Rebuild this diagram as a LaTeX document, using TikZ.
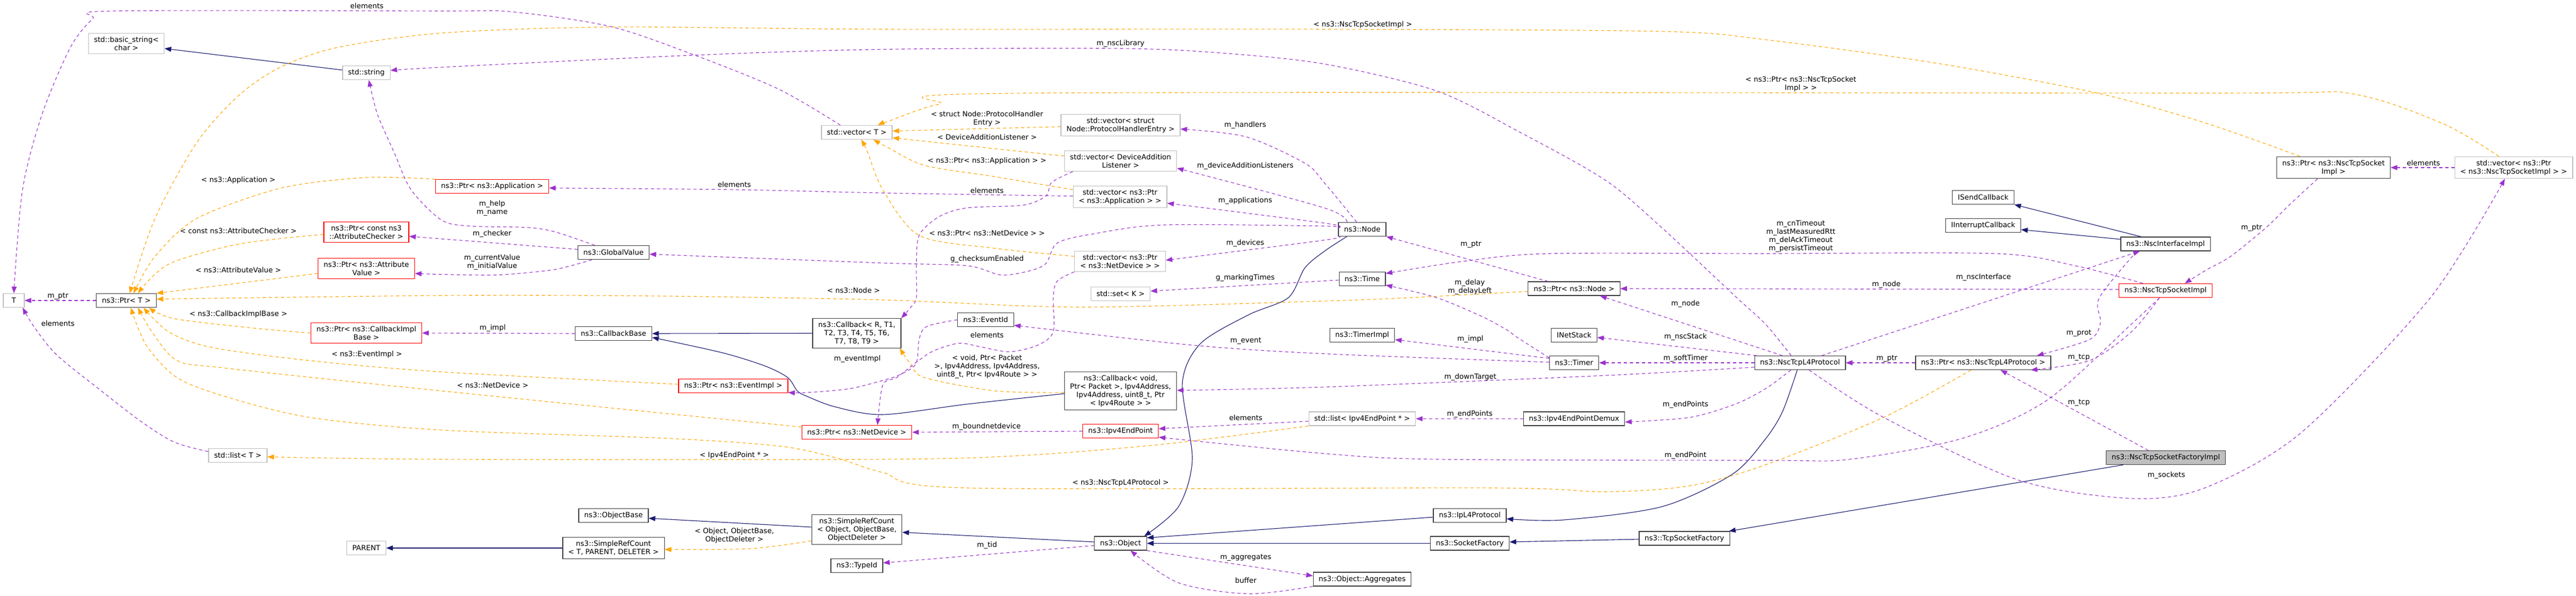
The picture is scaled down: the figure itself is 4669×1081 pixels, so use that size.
\documentclass[tikz,border=0pt]{standalone}
\usepackage{fontspec}
\setmainfont{DejaVu Sans}
\usetikzlibrary{arrows.meta}
\definecolor{usecol}{HTML}{9A32CD}
\definecolor{inhcol}{HTML}{191970}
\definecolor{tplcol}{HTML}{FFA500}
\definecolor{bdgray}{HTML}{BFBFBF}
\definecolor{bdred}{HTML}{FF0000}
\definecolor{bddark}{HTML}{404040}
\tikzset{
  cls/.style={draw=bddark, fill=white, line width=1.2pt, font=\fontsize{13}{15}\selectfont,
    align=center, inner xsep=10pt, inner ysep=6pt, minimum height=25pt},
  ext/.style={cls, draw=bdgray},
  bad/.style={cls, draw=bdred},
  root/.style={cls, fill=bdgray},
  member/.style={usecol, line width=1.1pt, dash pattern=on 6pt off 5pt, -{Triangle[length=12pt,width=9pt]}},
  inherit/.style={inhcol, line width=1.1pt, -{Triangle[length=12pt,width=9pt]}},
  templ/.style={tplcol, line width=1.1pt, dash pattern=on 6pt off 5pt, -{Triangle[length=12pt,width=9pt]}},
  lbl/.style={font=\fontsize{13}{15}\selectfont, align=center, inner sep=0pt, text=black}
}
\begin{document}
\begin{tikzpicture}[x=1pt, y=-1pt]
        \useasboundingbox[fill=white] (0,0) rectangle (4669,1081);
        % classes
        \node (T) at (25,545) [ext, minimum width=38pt] {T};
        \node (PtrT) at (229,545) [cls] {ns3::Ptr< T >};
        \node (bstr) at (229,79) [ext] {std::basic\_string<\\char >};
        \node (str) at (664,132) [ext] {std::string};
        \node (PtrChk) at (664,421) [bad] {ns3::Ptr< const ns3\\::AttributeChecker >};
        \node (PtrVal) at (664,487) [bad] {ns3::Ptr< ns3::Attribute\\Value >};
        \node (PtrCbImpl) at (664,604) [bad] {ns3::Ptr< ns3::CallbackImpl\\Base >};
        \node (listT) at (431,826) [ext] {std::list< T >};
        \node (parent) at (664,994) [ext] {PARENT};
        \node (PtrApp) at (892,338) [bad] {ns3::Ptr< ns3::Application >};
        \node (GV) at (1112,458) [cls] {ns3::GlobalValue};
        \node (CbBase) at (1112,605) [cls] {ns3::CallbackBase};
        \node (PtrEvImpl) at (1329,700) [bad] {ns3::Ptr< ns3::EventImpl >};
        \node (ObjBase) at (1112,935) [cls] {ns3::ObjectBase};
        \node (SRCT) at (1112,994) [cls] {ns3::SimpleRefCount\\< T, PARENT, DELETER >};
        \node (vecT) at (1553,240) [ext] {std::vector< T >};
        \node (CbR) at (1553,604.5) [cls] {ns3::Callback< R, T1,\\T2, T3, T4, T5, T6,\\T7, T8, T9 >};
        \node (PtrNetDev) at (1553,784) [bad] {ns3::Ptr< ns3::NetDevice >};
        \node (SRCObj) at (1553,960.5) [cls] {ns3::SimpleRefCount\\< Object, ObjectBase,\\ObjectDeleter >};
        \node (TypeId) at (1553,1026) [cls] {ns3::TypeId};
        \node (EvId) at (1786.5,580) [cls] {ns3::EventId};
        \node (vecPHE) at (2031,227) [ext] {std::vector< struct\\Node::ProtocolHandlerEntry >};
        \node (vecDAL) at (2031,292) [ext] {std::vector< DeviceAddition\\Listener >};
        \node (vecApp) at (2030,357) [ext] {std::vector< ns3::Ptr\\< ns3::Application > >};
        \node (vecDev) at (2030,474) [ext] {std::vector< ns3::Ptr\\< ns3::NetDevice > >};
        \node (setK) at (2031,533) [ext] {std::set< K >};
        \node (CbVoid) at (2031,709) [cls] {ns3::Callback< void,\\Ptr< Packet >, Ipv4Address,\\Ipv4Address, uint8\_t, Ptr\\< Ipv4Route > >};
        \node (EndPt) at (2031,782) [bad] {ns3::Ipv4EndPoint};
        \node (Obj) at (2031,985.5) [cls] {ns3::Object};
        \node (Node) at (2469,416) [cls] {ns3::Node};
        \node (Time) at (2469,506) [cls] {ns3::Time};
        \node (TimerImpl) at (2469,608) [cls] {ns3::TimerImpl};
        \node (listEP) at (2469,759.5) [ext] {std::list< Ipv4EndPoint * >};
        \node (Aggr) at (2469,1050.5) [cls] {ns3::Object::Aggregates};
        \node (PtrNode) at (2853,523.5) [cls] {ns3::Ptr< ns3::Node >};
        \node (NetStack) at (2853,608) [cls] {INetStack};
        \node (Timer) at (2853,658) [cls] {ns3::Timer};
        \node (Demux) at (2853,759.5) [cls] {ns3::Ipv4EndPointDemux};
        \node (IpL4) at (2664,935) [cls] {ns3::IpL4Protocol};
        \node (SockFac) at (2664,985.5) [cls] {ns3::SocketFactory};
        \node (TcpSockFac) at (3053,976.5) [cls] {ns3::TcpSocketFactory};
        \node (L4) at (3262.5,658) [cls] {ns3::NscTcpL4Protocol};
        \node (PtrL4) at (3594.5,658) [cls] {ns3::Ptr< ns3::NscTcpL4Protocol >};
        \node (SendCb) at (3594.5,358) [cls] {ISendCallback};
        \node (IntCb) at (3594.5,409) [cls] {IInterruptCallback};
        \node (Iface) at (3925,442.5) [cls] {ns3::NscInterfaceImpl};
        \node (Sock) at (3925,527) [bad] {ns3::NscTcpSocketImpl};
        \node (Fac) at (3925.5,830) [root] {ns3::NscTcpSocketFactoryImpl};
        \node (PtrSock) at (4229.5,304) [cls] {ns3::Ptr< ns3::NscTcpSocket\\Impl >};
        \node (vecSock) at (4556,304) [ext] {std::vector< ns3::Ptr\\< ns3::NscTcpSocketImpl > >};

        % inheritance
        \draw[inherit] ([yshift=5pt]str.west) -- ([yshift=-9pt]bstr.east);
        \draw[inherit] (CbR.west) -- (CbBase.east);
        \draw[inherit] plot[smooth] coordinates {([yshift=-5pt]CbVoid.west) (1753,733) (1600,752) (1514,738) (1463,719) (1445,709) (1428,685) (1387,664) (1310,640) ([yshift=-7pt]CbBase.east)};
        \draw[inherit] plot[smooth] coordinates {([xshift=-28pt]Node.south) (2400,456) (2365,486) (2335,540) (2263,571) (2176,623) (2143,695) (2161,833) (2136,919) ([xshift=43pt]Obj.north)};
        \draw[inherit] ([yshift=4.5pt]SRCObj.west) -- ([yshift=-5pt]ObjBase.east);
        \draw[inherit] ([yshift=2.5pt]Obj.west) -- ([yshift=-5pt]SRCObj.east);
        \draw[inherit] (SRCT.west) -- (parent.east);
        \draw[inherit] ([yshift=-3pt]IpL4.west) -- ([yshift=10pt]Obj.east);
        \draw[inherit] (SockFac.west) -- (Obj.east);
        \draw[inherit] plot[smooth] coordinates {([xshift=-5pt]L4.south) (3231,746) (3200,796) (3140,860) (3012,919) (2834,943) ([yshift=-6pt]IpL4.east)};
        \draw[inherit] ([yshift=-1.5pt]TcpSockFac.west) -- ([yshift=2.5pt]SockFac.east);
        \draw[inherit] ([xshift=-77pt]Fac.south) -- ([xshift=-2pt]TcpSockFac.north east);
        \draw[inherit] ([xshift=-44pt]Iface.north) -- (SendCb.south east);
        \draw[inherit] ([yshift=8.5pt]Iface.west) -- ([yshift=-7.5pt]IntCb.east);

        % template instances
        \draw[templ] plot[smooth] coordinates {([xshift=-61pt]PtrSock.north) (4000,224) (3802,169) (3506,114) (3200,72) (3012,57) (2400,53) (1600,53) (1106,49) (800,60) (612,86) (510,121) (434,172) (357,258) (281,396) ([xshift=6pt]PtrT.north)}
            node[lbl] at (2470,45) {< ns3::NscTcpSocketImpl >};
        \draw[templ] plot[smooth] coordinates {([xshift=-27pt]vecSock.north) (4427,224) (4256,169) (4000,169) (1855,169) (1702,189) (1610,220) ([xshift=38pt]vecT.north)}
            node[lbl] at (3264,152) {< ns3::Ptr< ns3::NscTcpSocket\\Impl > >};
        \draw[templ] ([yshift=-2.7pt]vecPHE.west) -- ([yshift=2.4pt]vecT.east)
            node[lbl] at (1789,215) {< struct Node::ProtocolHandler\\Entry >};
        \draw[templ] ([yshift=9pt]vecDAL.west) -- ([yshift=-10pt]vecT.east)
            node[lbl] at (1789,249) {< DeviceAdditionListener >};
        \draw[templ] plot[smooth] coordinates {([yshift=13pt]vecApp.west) (1800,320) (1676,300) (1610,268) ([xshift=30pt]vecT.south)}
            node[lbl] at (1789,292) {< ns3::Ptr< ns3::Application > >};
        \draw[templ] plot[smooth] coordinates {([yshift=9pt]vecDev.west) (1800,450) (1666,427) (1600,344) (1572,275) ([xshift=8pt]vecT.south)}
            node[lbl] at (1789,422.5) {< ns3::Ptr< ns3::NetDevice > >};
        \draw[templ] plot[smooth] coordinates {([yshift=13pt]PtrApp.west) (663,322) (510,341) (357,396) (281,465) ([xshift=13pt]PtrT.north)}
            node[lbl] at (432,327) {< ns3::Application >};
        \draw[templ] plot[smooth] coordinates {([yshift=-4pt]PtrChk.west) (434,442.5) (306,479) ([xshift=21pt]PtrT.north)}
            node[lbl] at (432,419) {< const ns3::AttributeChecker >};
        \draw[templ] ([yshift=-9pt]PtrVal.west) -- (PtrT.north east)
            node[lbl] at (432,490) {< ns3::AttributeValue >};
        \draw[templ] plot[smooth] coordinates {([yshift=-5pt]PtrNode.west) (2553,540) (2400,546) (1957,557) (1600,544) (1200,537) (800,536) ([yshift=2.5pt]PtrT.east)}
            node[lbl] at (1547,527) {< ns3::Node >};
        \draw[templ] plot[smooth] coordinates {(PtrCbImpl.west) (459,595) (316,578) ([xshift=41pt]PtrT.south)}
            node[lbl] at (432,570) {< ns3::CallbackImplBase >};
        \draw[templ] plot[smooth] coordinates {([yshift=3pt]PtrEvImpl.west) (800,674.5) (561,654) (383,630) (306,602) ([xshift=31pt]PtrT.south)}
            node[lbl] at (665,643) {< ns3::EventImpl >};
        \draw[templ] plot[smooth] coordinates {([yshift=9.5pt]PtrNetDev.west) (800,709) (408,667.6) (321,654) (275.5,602) ([xshift=21pt]PtrT.south)}
            node[lbl] at (893,699) {< ns3::NetDevice >};
        \draw[templ] plot[smooth] coordinates {([xshift=-22pt]PtrL4.south) (3414,757) (3200,843) (3063,881) (2910,892) (2706,885) (1753,885) (1600,857) (1514,830) (1412,809) (1208,795) (800,780) (561,757) (408,719) (321,685) (265,626) ([xshift=8pt]PtrT.south)}
            node[lbl] at (2031,876) {< ns3::NscTcpL4Protocol >};
        \draw[templ] plot[smooth] coordinates {(listEP.south west) (2110,805.5) (1855,826) (1600,833) (800,833) ([yshift=-2.6pt]listT.east)}
            node[lbl] at (1331,826) {< Ipv4EndPoint * >};
        \draw[templ] plot[smooth] coordinates {([yshift=-3pt]CbVoid.west) (1804,709) (1676,685) (1651,661) ([xshift=-3pt]CbR.south east)}
            node[lbl] at (1789,665) {< void, Ptr< Packet\\>, Ipv4Address, Ipv4Address,\\uint8\_t, Ptr< Ipv4Route > >};
        \draw[templ] plot[smooth] coordinates {([yshift=-20.5pt]SRCObj.west) (1361,995) ([yshift=-2.6pt]SRCT.east)}
            node[lbl] at (1331,971) {< Object, ObjectBase,\\ObjectDeleter >};

        % members
        \draw[member] plot[smooth] coordinates {([xshift=-16pt]L4.north) (3200,588) (3148,540) (3012,413) (2910,327) (2757,241) (2604,165) (2400,116) (2212,96) (2031,88) (1600,89.5) (1259,100) (800,122) ([yshift=4pt]str.east)}
            node[lbl] at (2031,79) {m\_nscLibrary};
        \draw[member] plot[smooth] coordinates {([xshift=-34pt]GV.north) (1004,420) (953,412.5) (851,410) (800,399) (745,344) (714,275.5) (684,207) ([xshift=4.5pt]str.south)}
            node[lbl] at (892,378) {m\_help\\m\_name};
        \draw[member] ([yshift=5.7pt]GV.west) -- ([yshift=-7.7pt]PtrChk.east)
            node[lbl] at (892,424) {m\_checker};
        \draw[member] plot[smooth] coordinates {([xshift=-39pt]GV.south) (1004,489) (902,498.6) (800,497.6) ([yshift=-9pt]PtrVal.east)}
            node[lbl] at (892,476) {m\_currentValue\\m\_initialValue};
        \draw[member] (PtrT.west) -- (T.east)
            node[lbl] at (105,537) {m\_ptr};
        \draw[member] plot[smooth] coordinates {([xshift=-30pt]vecT.north) (1412,162) (1259,100) (1106,48) (927.5,21.4) (800,20) (204,20) (168,34.4) (127.6,86) (76.5,206.6) (40.8,344) (T.north)}
            node[lbl] at (665,11) {elements};
        \draw[member] plot[smooth] coordinates {([yshift=7pt]listT.west) (316,802) (255,764) (178.6,705) (102,643) (61,591.7) ([xshift=16pt]T.south)}
            node[lbl] at (105,587) {elements};
        \draw[member] plot[smooth] coordinates {([yshift=1.3pt]vecApp.west) (1600,350) (1331,344) ([yshift=-3pt]PtrApp.east)}
            node[lbl] at (1331,335) {elements};
        \draw[member] plot[smooth] coordinates {([xshift=-86.5pt]vecDAL.south) (1906,331) (1896,355) (1855,372) (1753,377) (1702,393) (1666,427) (1661,482) (1661,540) (1651,557) (CbR.north east)}
            node[lbl] at (1789,346) {elements};
        \draw[member] plot[smooth] coordinates {([xshift=-83pt]vecDev.south) (1916,510) (1909,540) (1909,602) (1881,626) (1830,638) (1779,629.5) (1738,622.6) (1692,636.4) (1661,657) (1625.5,684.6) (1600,698.4) ([xshift=37.5pt]PtrNetDev.north)}
            node[lbl] at (1789,607.5) {elements};
        \draw[member] plot[smooth] coordinates {([yshift=1pt]Timer.west) (2400,641.6) (2161,626) ([yshift=-10pt]EvId.east)}
            node[lbl] at (2258,618.5) {m\_event};
        \draw[member] plot[smooth] coordinates {(EvId.west) (1680,592) (1666,615) (1660,660) (1630,680) (1600,690) (1540,705) (1463,712) ([yshift=-12pt]PtrEvImpl.east)}
            node[lbl] at (1554,651) {m\_eventImpl};
        \draw[member] (CbBase.west) -- (PtrCbImpl.east)
            node[lbl] at (893,595) {m\_impl};
        \draw[member] (EndPt.west) -- (PtrNetDev.east)
            node[lbl] at (1788,774) {m\_boundnetdevice};
        \draw[member] ([yshift=-4.5pt]listEP.west) -- ([yshift=4.4pt]EndPt.east)
            node[lbl] at (2258,758) {elements};
        \draw[member] plot[smooth] coordinates {([xshift=-11pt]Sock.south) (3863,588) (3710,726) (3557,795) (3353,833) (3200,835) (2604,833) (2400,822.6) ([yshift=-11pt]EndPt.east)}
            node[lbl] at (3055,826) {m\_endPoint};
        \draw[member] (Demux.west) -- (listEP.east)
            node[lbl] at (2664,751) {m\_endPoints};
        \draw[member] plot[smooth] coordinates {([xshift=-16.5pt]L4.south) (3200,705) (3145,733) (3063,757) ([yshift=-6pt]Demux.east)}
            node[lbl] at (3055,734) {m\_endPoints};
        \draw[member] (L4.west) -- (Timer.east)
            node[lbl] at (3055,650) {m\_softTimer};
        \draw[member] ([xshift=4pt]L4.north west) -- ([yshift=-4pt]NetStack.east)
            node[lbl] at (3055,610.6) {m\_nscStack};
        \draw[member] ([xshift=-32pt]L4.north) -- ([xshift=47pt]PtrNode.south)
            node[lbl] at (3055,551) {m\_node};
        \draw[member] ([yshift=2pt]Sock.west) -- (PtrNode.east)
            node[lbl] at (3419,516.5) {m\_node};
        \draw[member] ([xshift=-47pt]PtrNode.north) -- (Node.south east)
            node[lbl] at (2666,443) {m\_ptr};
        \draw[member] plot[smooth] coordinates {([yshift=-4pt]Timer.north west) (2747,610) (2734,600) (2686,574) (2604,540) ([yshift=-11pt]Time.east)}
            node[lbl] at (2664,521) {m\_delay\\m\_delayLeft};
        \draw[member] ([yshift=8pt]Timer.west) -- ([yshift=-8pt]TimerImpl.east)
            node[lbl] at (2665,615) {m\_impl};
        \draw[member] plot[smooth] coordinates {([xshift=-41pt]Sock.north) (3761,482) (3618,460) (3200,460) (2808,460) (2655,473.5) ([yshift=10pt]Time.east)}
            node[lbl] at (3264,429) {m\_cnTimeout\\m\_lastMeasuredRtt\\m\_delAckTimeout\\m\_persistTimeout};
        \draw[member] ([yshift=-2pt]Time.west) -- ([yshift=5pt]setK.east)
            node[lbl] at (2257,504.5) {g\_markingTimes};
        \draw[member] plot[smooth] coordinates {([xshift=-10pt]Node.north) (2400,331) (2365,296) (2258,248) ([yshift=-7pt]vecPHE.east)}
            node[lbl] at (2257,227) {m\_handlers};
        \draw[member] plot[smooth] coordinates {([xshift=-27.5pt]Node.north) (2400,377) ([yshift=-13pt]vecDAL.east)}
            node[lbl] at (2257,300.6) {m\_deviceAdditionListeners};
        \draw[member] plot[smooth] coordinates {([yshift=4.5pt]Node.west) (2400,404.6) ([yshift=-11.5pt]vecApp.east)}
            node[lbl] at (2257,364) {m\_applications};
        \draw[member] plot[smooth] coordinates {([yshift=-12.7pt]Node.west) (2400,435.6) ([yshift=2pt]vecDev.east)}
            node[lbl] at (2257,441) {m\_devices};
        \draw[member] plot[smooth] coordinates {([yshift=3pt]Node.west) (2400,410) (2110,408) (1983,424) (1916,441) (1891,482) (1819,499) (1753,482) (1600,477) ([yshift=-3pt]GV.east)}
            node[lbl] at (1789,470) {g\_checksumEnabled};
        \draw[member] ([yshift=-4pt]Obj.west) -- ([yshift=5pt]TypeId.east)
            node[lbl] at (1789,989) {m\_tid};
        \draw[member] (Obj.south east) -- ([yshift=6pt]Aggr.west)
            node[lbl] at (2258,1011) {m\_aggregates};
        \draw[member] plot[smooth] coordinates {(Aggr.south west) (2263,1077) (2136,1057) ([xshift=18pt]Obj.south)}
            node[lbl] at (2258,1053) {buffer};
        \draw[member] plot[smooth] coordinates {([yshift=-8pt]L4.west) (2910,681) (2400,702) ([yshift=1pt]CbVoid.east)}
            node[lbl] at (2665,684) {m\_downTarget};
        \draw[member] (PtrL4.west) -- (L4.east)
            node[lbl] at (3420,650) {m\_ptr};
        \draw[member] plot[smooth] coordinates {([xshift=-52pt]Iface.south) (3805,540) (3807,585) (3787,616) ([xshift=97.5pt]PtrL4.north)}
            node[lbl] at (3768,604) {m\_prot};
        \draw[member] plot[smooth] coordinates {([xshift=-11pt]Sock.south) (3863,602) (3787,654) ([xshift=-37pt]PtrL4.south east)}
            node[lbl] at (3768,648.5) {m\_tcp};
        \draw[member] ([xshift=-31.5pt]Fac.north) -- ([xshift=31.5pt]PtrL4.south)
            node[lbl] at (3768,730) {m\_tcp};
        \draw[member] plot[smooth] coordinates {([xshift=16.5pt]L4.south) (3414,757) (3659,871) (3863,904) (3996,885) (4171,784.5) (4405,540) ([xshift=-16pt]vecSock.south)}
            node[lbl] at (3926.5,862) {m\_sockets};
        \draw[member] (vecSock.west) -- (PtrSock.east)
            node[lbl] at (4392.5,295.5) {elements};
        \draw[member] plot[smooth] coordinates {([xshift=-29pt]PtrSock.south) (4149,372) (4107,413) (4043,465) (4000,489) ([xshift=35pt]Sock.north)}
            node[lbl] at (4081,413) {m\_ptr};
        \draw[member] ([xshift=39.5pt]L4.north) -- ([xshift=-46.4pt]Iface.south)
            node[lbl] at (3595,503) {m\_nscInterface};
\end{tikzpicture}
\end{document}
